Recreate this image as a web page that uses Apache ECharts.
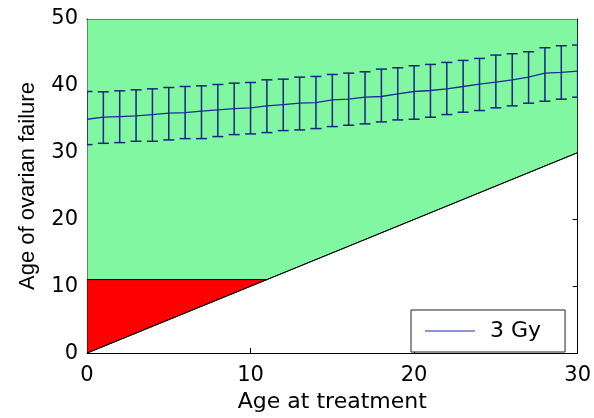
<!DOCTYPE html>
<html>
<head>
<meta charset="utf-8">
<script src="https://cdn.jsdelivr.net/npm/echarts@6/dist/echarts.min.js"></script>
<style>
html,body{margin:0;padding:0;background:#fff;}
#chart{width:594px;height:418px;}
</style>
</head>
<body>
<div id="chart"></div>
<script>
// ---- data ----
const ageAtTreatment = [0,1,2,3,4,5,6,7,8,9,10,11,12,13,14,15,16,17,18,19,20,21,22,23,24,25,26,27,28,29,30];
const meanFailure = [35.0,35.3,35.4,35.5,35.7,35.9,36.0,36.2,36.4,36.6,36.7,37.0,37.2,37.4,37.5,37.9,38.0,38.3,38.4,38.8,39.15,39.3,39.55,39.9,40.25,40.55,40.9,41.3,41.9,42.0,42.2];
const lowerFailure = [31.2,31.4,31.5,31.7,31.7,31.9,32.1,32.1,32.4,32.7,32.8,33.0,33.3,33.4,33.6,33.9,34.1,34.3,34.6,34.9,35.0,35.3,35.7,36.05,36.3,36.7,37.0,37.4,37.7,38.0,38.3];
const upperFailure = [39.15,39.1,39.25,39.4,39.55,39.75,39.9,40.0,40.2,40.4,40.5,40.9,41.0,41.3,41.4,41.7,41.9,42.1,42.5,42.7,43.0,43.2,43.5,43.8,44.1,44.6,44.8,45.1,45.7,46.0,46.1];
const greenX = [0, 11, 30, 30, 0];
const greenY = [11, 11, 30, 50, 50];
const redX = [0, 0, 11];
const redY = [0, 11, 11];
const diagX = [0, 30];
const diagY = [0, 30];
const xTicks = [0, 10, 20, 30];
const yTicks = [0, 10, 20, 30, 40, 50];
const seriesName = '3 Gy';

// ---- build ----
const chart = echarts.init(document.getElementById('chart'), null, {renderer: 'canvas'});

function polygonSeries(xs, ys, color) {
  const pts = xs.map((x, i) => [x, ys[i]]);
  return {
    type: 'custom',
    silent: true,
    clip: true,
    data: [0],
    z: 1,
    renderItem: function (params, api) {
      return {
        type: 'polygon',
        shape: { points: pts.map(p => api.coord(p)) },
        style: { fill: color, stroke: '#000', lineWidth: 0.8 }
      };
    }
  };
}

const errData = ageAtTreatment.map((x, i) => [x, lowerFailure[i], upperFailure[i]]);
const meanData = ageAtTreatment.map((x, i) => [x, meanFailure[i]]);

const tickStyle = { show: true, inside: true, length: 5, lineStyle: { color: '#000', width: 1 } };
const fontH = 'DejaVu Sans';

const option = {
  backgroundColor: '#fff',
  animation: false,
  grid: { left: 87, right: 15, top: 19, bottom: 64, show: false },
  legend: {
    data: [seriesName],
    left: 411, top: 310,
    orient: 'vertical',
    backgroundColor: '#fff',
    borderColor: '#222', borderWidth: 1,
    padding: [10, 24, 10, 14],
    itemWidth: 50, itemHeight: 14,
    icon: 'path://M0,0 L50,0 L50,1 L0,1 Z',
    textStyle: { fontFamily: fontH, fontSize: 22, color: '#000', padding: [0, 0, 0, 10] },
    selectedMode: false
  },
  xAxis: [
    {
      type: 'value', min: 0, max: 30, interval: 10, position: 'bottom',
      name: 'Age at treatment', nameLocation: 'middle', nameGap: 37,
      nameTextStyle: { fontFamily: fontH, fontSize: 22, color: '#000' },
      axisLine: { show: true, onZero: false, lineStyle: { color: '#000', width: 1 } },
      axisTick: tickStyle,
      axisLabel: { fontFamily: fontH, fontSize: 21, color: '#000', margin: 12,
        formatter: v => xTicks.includes(v) ? String(v) : '' },
      splitLine: { show: false }
    },
    {
      type: 'value', min: 0, max: 30, interval: 10, position: 'top',
      axisLine: { show: true, onZero: false, lineStyle: { color: '#000', width: 1 } },
      axisTick: tickStyle, axisLabel: { show: false }, splitLine: { show: false }
    }
  ],
  yAxis: [
    {
      type: 'value', min: 0, max: 50, interval: 10, position: 'left',
      name: 'Age of ovarian failure', nameLocation: 'middle', nameGap: 48, nameRotate: 90,
      nameTextStyle: { fontFamily: 'Liberation Sans', fontSize: 22, color: '#000' },
      axisLine: { show: true, onZero: false, lineStyle: { color: '#000', width: 1 } },
      axisTick: tickStyle,
      axisLabel: { fontFamily: fontH, fontSize: 21, color: '#000', margin: 9,
        formatter: v => yTicks.includes(v) ? String(v) : '' },
      splitLine: { show: false }
    },
    {
      type: 'value', min: 0, max: 50, interval: 10, position: 'right',
      axisLine: { show: true, onZero: false, lineStyle: { color: '#000', width: 1 } },
      axisTick: tickStyle, axisLabel: { show: false }, splitLine: { show: false }
    }
  ],
  series: [
    polygonSeries(greenX, greenY, '#80f7a0'),
    polygonSeries(redX, redY, '#ff0000'),
    {
      type: 'line', silent: true, z: 2,
      data: diagX.map((x, i) => [x, diagY[i]]),
      symbol: 'none', lineStyle: { color: '#000', width: 1 }
    },
    {
      type: 'custom', silent: true, clip: true, z: 3,
      data: errData,
      renderItem: function (params, api) {
        const x = api.value(0);
        const lo = api.coord([x, api.value(1)]);
        const hi = api.coord([x, api.value(2)]);
        const hw = 5.5;
        const st = { stroke: '#14287e', lineWidth: 1.5 };
        return {
          type: 'group',
          children: [
            { type: 'line', shape: { x1: lo[0], y1: lo[1], x2: hi[0], y2: hi[1] }, style: st },
            { type: 'line', shape: { x1: lo[0] - hw, y1: lo[1], x2: lo[0] + hw, y2: lo[1] }, style: st },
            { type: 'line', shape: { x1: hi[0] - hw, y1: hi[1], x2: hi[0] + hw, y2: hi[1] }, style: st }
          ]
        };
      }
    },
    {
      name: seriesName,
      type: 'line', z: 4,
      data: meanData,
      symbol: 'none', showSymbol: false,
      itemStyle: { color: '#1a2c9c' },
      lineStyle: { color: '#1a2c9c', width: 1.3 }
    }
  ]
};
chart.setOption(option);
</script>
</body>
</html>
